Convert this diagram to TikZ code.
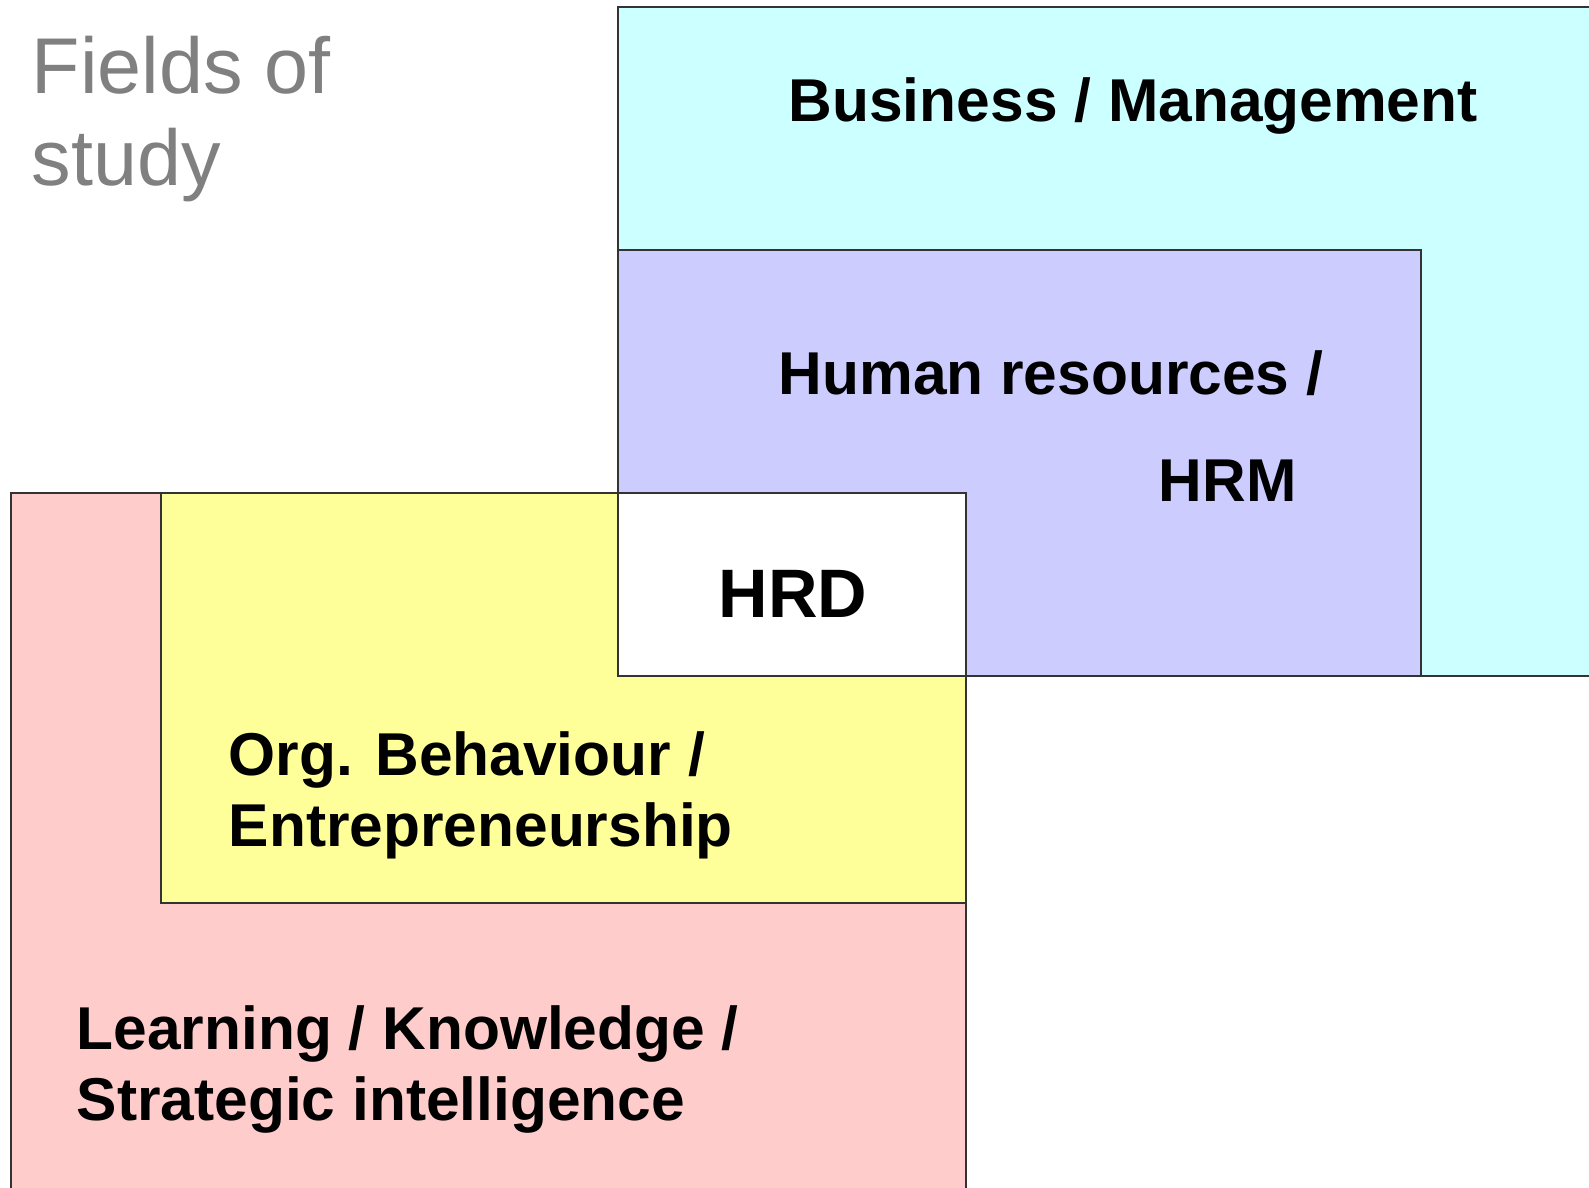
\documentclass[tikz,border=0pt]{standalone}
\usepackage{fontspec}
\setmainfont{Liberation Sans}
\definecolor{bizcyan}{HTML}{CCFFFF}
\definecolor{hrmblue}{HTML}{CCCCFF}
\definecolor{orgyellow}{HTML}{FFFF99}
\definecolor{learnpink}{HTML}{FFCCCC}
\definecolor{rand}{HTML}{333333}
\tikzset{
  feld/.style={draw=rand, line width=0.6pt},
  lab/.style={anchor=base west, inner sep=0pt, font=\fontsize{17.2pt}{21pt}\selectfont\bfseries},
}
\begin{document}
\begin{tikzpicture}[x=0.01cm,y=-0.01cm]
	\useasboundingbox (0,0) rectangle (1589,1187);
	\clip (0,0) rectangle (1589,1187);
	% Felder, hinten nach vorne
	\filldraw[feld,fill=bizcyan] (618,7) rectangle (1620,676);
	\filldraw[feld,fill=hrmblue] (618,250) rectangle (1421,676);
	\filldraw[feld,fill=learnpink] (11,493) rectangle (966,1220);
	\filldraw[feld,fill=orgyellow] (161,493) rectangle (966,903);
	\filldraw[feld,fill=white] (618,493) rectangle (966,676);
	% Beschriftung
	\node[anchor=base west,inner sep=0pt,text=gray,font=\fontsize{22.5pt}{26pt}\selectfont] (fields) at (31,93) {Fields of};
	\node[anchor=base west,inner sep=0pt,text=gray,font=\fontsize{22.5pt}{26pt}\selectfont] (study) at (31,185) {study};
	\node[lab] (biz) at (788,121) {Business / Management};
	\node[lab] (hr) at (778,394) {Human resources /};
	\node[lab] (hrm) at (1158,501) {HRM};
	\node[lab,font=\fontsize{19.5pt}{23pt}\selectfont\bfseries] (hrd) at (718,617) {HRD};
	\node[lab] (org) at (228,775) {Org. Behaviour /};
	\node[lab] (entre) at (228,846) {Entrepreneurship};
	\node[lab] (learn) at (76,1049) {Learning / Knowledge /};
	\node[lab] (strat) at (76,1120) {Strategic intelligence};
\end{tikzpicture}
\end{document}
